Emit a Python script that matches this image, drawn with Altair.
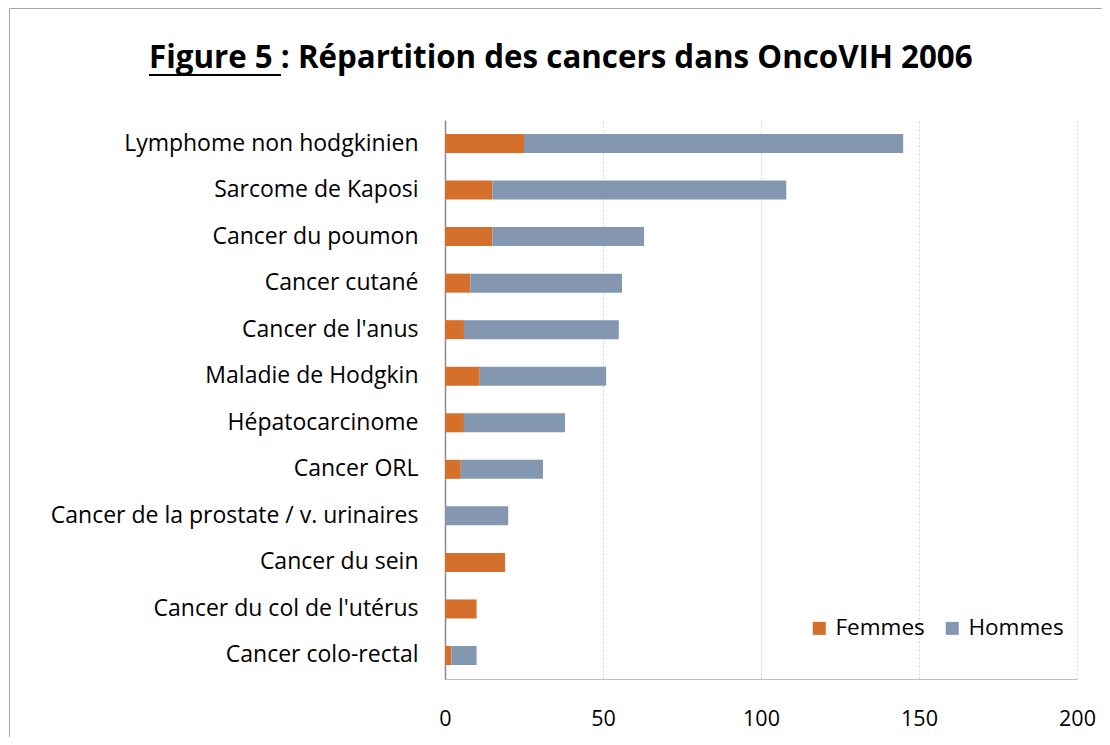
import altair as alt
import pandas as pd

categories = [
    "Lymphome non hodgkinien",
    "Sarcome de Kaposi",
    "Cancer du poumon",
    "Cancer cutané",
    "Cancer de l'anus",
    "Maladie de Hodgkin",
    "Hépatocarcinome",
    "Cancer ORL",
    "Cancer de la prostate / v. urinaires ",
    "Cancer du sein",
    "Cancer du col de l'utérus",
    "Cancer colo-rectal",
]
femmes = [25, 15, 15, 8, 6, 11, 6, 5, 0, 19, 10, 2]
hommes = [120, 93, 48, 48, 49, 40, 32, 26, 20, 0, 0, 8]
series = ["Femmes", "Hommes"]
colors = ["#D5702C", "#8497B0"]
x_ticks = [0, 50, 100, 150, 200]
title_text = "Figure 5 : Répartition des cancers dans OncoVIH 2006"

rows = []
for c, f, h in zip(categories, femmes, hommes):
    rows.append({"cat": c, "sexe": "Femmes", "n": f, "ord": 0})
    rows.append({"cat": c, "sexe": "Hommes", "n": h, "ord": 1})
df = pd.DataFrame(rows)

FONT = "Open Sans"
W, H = 632, 559
PL, PT = 437, 112

bars = alt.Chart(df).mark_bar(size=19).encode(
    x=alt.X("n:Q", stack="zero", scale=alt.Scale(domain=[0, 200], nice=False),
            axis=alt.Axis(values=x_ticks, title=None, grid=True, gridDash=[2, 2],
                          gridColor="#d0d0d0", domainColor="#bfbfbf", ticks=False,
                          labelFlush=False, labelBound=False,
                          labelPadding=29, labelFontSize=21.5, labelFont=FONT,
                          labelColor="#000000")),
    y=alt.Y("cat:N", sort=categories, scale=alt.Scale(paddingInner=0.59, paddingOuter=0.3),
            axis=alt.Axis(title=None, ticks=False, domainColor="#8a8a8a", domainWidth=1.5,
                          labelPadding=27, labelFontSize=23, labelFont=FONT,
                          labelColor="#000000", labelLimit=600, grid=False)),
    color=alt.Color("sexe:N", scale=alt.Scale(domain=series, range=colors),
                    legend=alt.Legend(orient="none", legendX=363, legendY=497,
                                      direction="horizontal", title=None,
                                      symbolType="square", symbolSize=169,
                                      symbolStrokeWidth=0, labelFontSize=22.5,
                                      labelFont=FONT, labelColor="#000000",
                                      columnPadding=16, labelOffset=5)),
    order=alt.Order("ord:Q"),
)

one = pd.DataFrame({"k": [0]})

title = alt.Chart(one).mark_text(
    align="left", baseline="alphabetic", font=FONT, fontSize=31.3, fontWeight="bold",
    color="#000000", text=title_text,
).encode(x=alt.value(149 - 445), y=alt.value(68 - 120))

underline = alt.Chart(one).mark_rule(color="#000000", strokeWidth=2).encode(
    x=alt.value(149 - 445), x2=alt.value(281 - 445), y=alt.value(75 - 120)
)

frame = alt.Chart(one).mark_rect(fill=None, stroke="#a6a6a6", strokeWidth=1).encode(
    x=alt.value(9.5 - 445), x2=alt.value(1200 - 445),
    y=alt.value(8.5 - 120), y2=alt.value(800 - 120),
)

chart = alt.layer(frame, bars, title, underline).properties(
    width=W, height=H,
    autosize=alt.AutoSizeParams(type="none"),
    padding={"left": PL, "top": PT, "right": 25, "bottom": 58},
).configure_view(stroke=None)

chart.save("out.html", embed_options={"renderer": "svg", "actions": False})
